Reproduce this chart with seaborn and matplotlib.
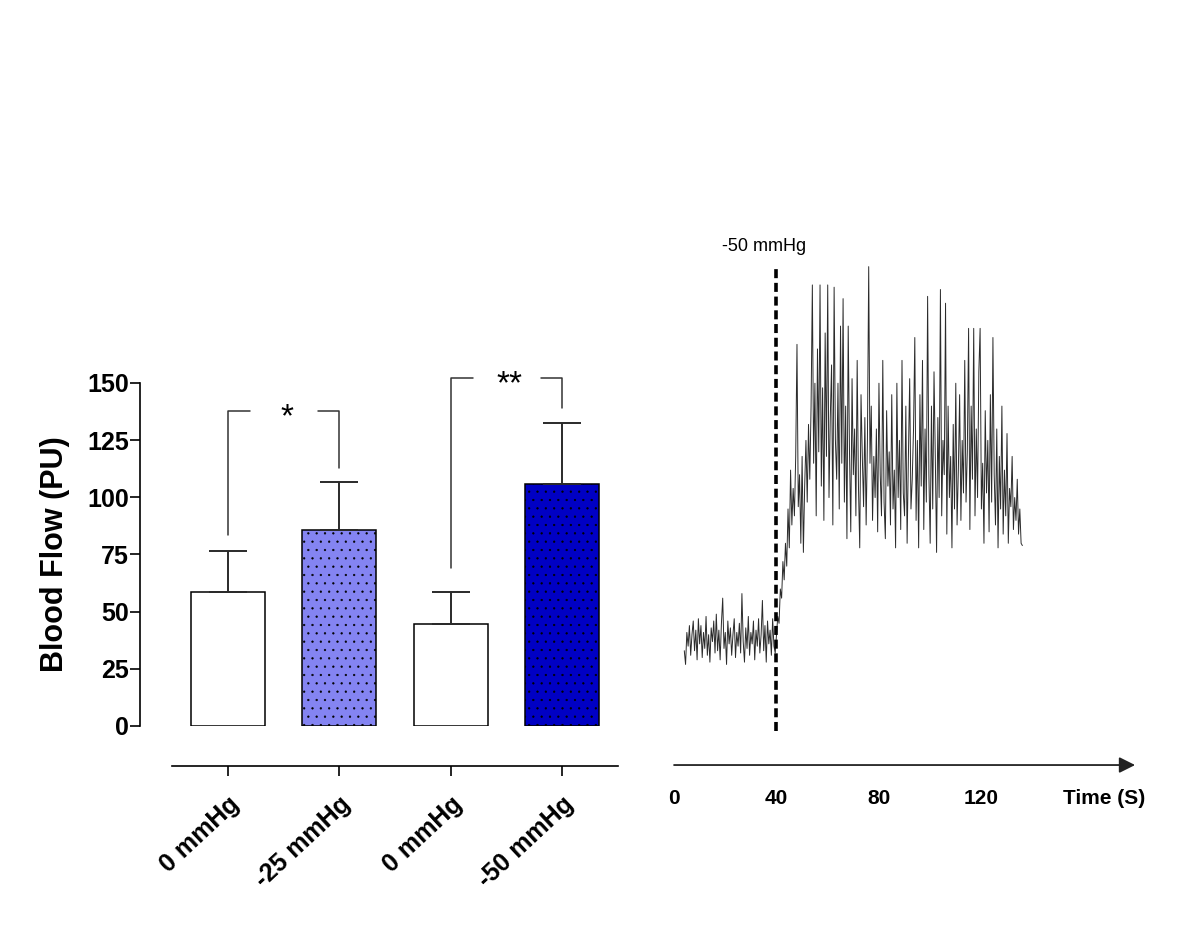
import numpy as np
import pandas as pd
import seaborn as sns
import matplotlib.pyplot as plt
from matplotlib.transforms import ScaledTranslation

# Bar chart data (PU)
groups = ['g1', 'g2', 'g3', 'g4']
group_labels = ['0 mmHg', '-25 mmHg', '0 mmHg', '-50 mmHg']
mean_flow = [58.5, 85.5, 44.5, 106.0]
sem_flow = [18.0, 21.0, 14.0, 26.5]
bar_colors = ['white', '#8484f2', 'white', '#0000c4']
bar_hatch = ['', '..', '', '..']

# significance brackets: (left bar, right bar, left foot, right foot, top, label)
brackets = [(0, 1, 83.5, 112.8, 137.7, '*'),
            (2, 3, 69.0, 139.0, 152.2, '**')]

# laser doppler trace, sampled every 0.5 s from 4 s to 136 s (PU)
trace_flow = [
    33, 27, 41, 35, 44, 31, 40, 46, 33, 42,
    29, 47, 36, 44, 30, 41, 34, 48, 31, 40,
    28, 43, 37, 46, 32, 49, 33, 42, 29, 45,
    56, 34, 41, 27, 46, 36, 43, 31, 40, 47,
    30, 41, 35, 45, 32, 58, 37, 28, 43, 34,
    48, 31, 41, 36, 46, 29, 42, 35, 47, 32,
    40, 55, 33, 44, 28, 46, 36, 42, 31, 47,
    35, 32, 40, 48, 45, 60, 56, 72, 64, 80,
    70, 95, 78, 112, 88, 104, 92, 118, 167, 96,
    110, 80, 118, 76, 105, 125, 98, 132, 108, 140,
    193, 115, 150, 92, 165, 120, 193, 105, 148, 90,
    172, 118, 193, 100, 135, 158, 88, 192, 125, 108,
    150, 95, 175, 115, 187, 98, 140, 82, 175, 120,
    85, 152, 110, 130, 92, 160, 105, 78, 145, 118,
    96, 135, 88, 125, 201, 115, 140, 90, 118, 100,
    130, 85, 150, 110, 92, 160, 98, 82, 138, 105,
    120, 88, 145, 95, 112, 78, 150, 100, 125, 86,
    160, 102, 92, 140, 80, 118, 152, 95, 108, 130,
    170, 90, 125, 78, 145, 105, 160, 86, 130, 98,
    188, 110, 80, 140, 95, 155, 118, 76, 135, 100,
    191, 92, 125, 110, 185, 84, 140, 100, 118, 78,
    132, 95, 150, 88, 112, 145, 90, 125, 102, 160,
    98, 120, 174, 86, 140, 108, 174, 92, 130, 100,
    155, 174, 95, 115, 80, 138, 102, 125, 85, 145,
    98, 170, 110, 88, 130, 78, 118, 95, 140, 84,
    112, 92, 128, 80, 104, 96, 118, 86, 100, 90,
    108, 84, 95, 80, 79,
]
time_s = np.linspace(4, 136, len(trace_flow))
stim_time = 40
time_ticks = [0, 40, 80, 120]

sns.set_style('white')
plt.rcParams['font.family'] = ['Liberation Sans', 'DejaVu Sans']
plt.rcParams['text.color'] = 'black'
plt.rcParams['xtick.color'] = 'black'
plt.rcParams['ytick.color'] = 'black'
plt.rcParams['axes.labelcolor'] = 'black'
plt.rcParams['hatch.linewidth'] = 0.4

fig = plt.figure(figsize=(12, 9.46), dpi=100)

# ---- left: bar chart
ax = fig.add_axes([0.1433, 0.2326, 0.3717, 0.3626])
df = pd.DataFrame({'group': groups, 'flow': mean_flow})
sns.barplot(data=df, x='group', y='flow', hue='group', palette=bar_colors,
            saturation=1, edgecolor='black', linewidth=1.1, width=0.66,
            errorbar=None, legend=False, ax=ax)
for patch, h in zip(ax.patches, bar_hatch):
    patch.set_hatch(h)
ax.errorbar(range(len(groups)), mean_flow, yerr=[np.zeros(len(groups)), sem_flow],
            fmt='none', ecolor='#2a2a2a', elinewidth=1.4, capsize=13.5, capthick=1.4)

for i, j, yl, yr, top, lab in brackets:
    ax.plot([i, i, i + 0.2], [yl, top, top], color='#333333', lw=1.1, clip_on=False)
    ax.plot([j - 0.19, j, j], [top, top, yr], color='#333333', lw=1.1, clip_on=False)
    ax.text((i + j) / 2 + 0.03, top - 3, lab, ha='center', va='center', fontsize=24,
            clip_on=False)

ax.set_xlim(-0.5, 3.5)
ax.set_ylim(0, 150)
ax.set_yticks(range(0, 151, 25))
ax.set_xticks(range(len(groups)))
ax.set_xticklabels(group_labels)
ax.set_xlabel('')
ax.set_ylabel('Blood Flow (PU)', fontsize=22, fontweight='bold', labelpad=12)
for s in ['top', 'right']:
    ax.spines[s].set_visible(False)
ax.spines['left'].set_position(('outward', 23))
ax.spines['bottom'].set_position(('outward', 29))
for s in ['left', 'bottom']:
    ax.spines[s].set_linewidth(1.2)
    ax.spines[s].set_color('black')
ax.tick_params(axis='y', left=True, length=7, width=1.2, labelsize=18, pad=1)
ax.tick_params(axis='x', bottom=True, length=7, width=1.2, labelsize=18, pad=18)
for t in ax.get_yticklabels():
    t.set_fontweight('bold')
shift = ScaledTranslation(8 / 100, 0, fig.dpi_scale_trans)
for t in ax.get_xticklabels():
    t.set_fontweight('bold')
    t.set_rotation(43)
    t.set_ha('right')
    t.set_va('center')
    t.set_rotation_mode('anchor')
    t.set_transform(t.get_transform() + shift)

# ---- right: trace
ax2 = fig.add_axes([0.5617, 0.1913, 0.3842, 0.5655])
sns.lineplot(x=time_s, y=trace_flow, ax=ax2, color='#2b2b2b', lw=0.7)
ax2.axvline(stim_time, ymin=0.064, ymax=0.93, color='black', lw=2.6,
            linestyle=(0, (2.5, 1.3)))
ax2.text(stim_time - 5, 0.97, '-50 mmHg', transform=ax2.get_xaxis_transform(),
         ha='center', va='center', fontsize=13)
ax2.set_xlim(0, 180)
ax2.set_ylim(-17, 217)
for s in ax2.spines.values():
    s.set_visible(False)
ax2.set_yticks([])
ax2.set_xticks(time_ticks)
ax2.tick_params(axis='x', length=0, labelsize=15, pad=17)
for t in ax2.get_xticklabels():
    t.set_fontweight('bold')
ax2.annotate('', xy=(1, 0), xytext=(0, 0), xycoords='axes fraction',
             arrowprops=dict(arrowstyle='-|>', color='#222222', lw=1.3,
                             mutation_scale=24, shrinkA=0, shrinkB=0))
ax2.text(0.933, -0.062, 'Time (S)', transform=ax2.transAxes, ha='center',
         va='center', fontsize=15, fontweight='bold')

fig.savefig('out.png', dpi=100)
